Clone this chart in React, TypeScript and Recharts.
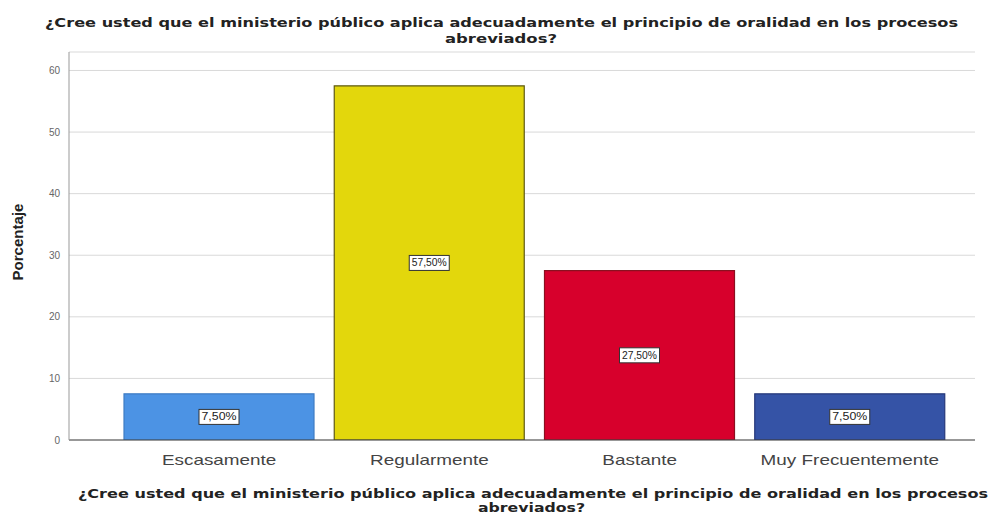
import React from 'react';
import { BarChart, Bar, Cell, XAxis, YAxis, CartesianGrid, LabelList } from 'recharts';

const categories = ['Escasamente', 'Regularmente', 'Bastante', 'Muy Frecuentemente'];
const percentages = [7.5, 57.5, 27.5, 7.5];
const yTicks = [0, 10, 20, 30, 40, 50, 60];
const barColors = ['#4C93E4', '#E3D70C', '#D7002C', '#3553A6'];
const barStrokes = ['#3F7CC4', '#5E5A14', '#8A1020', '#26387A'];

const titleLine1 = '¿Cree usted que el ministerio público aplica adecuadamente el principio de oralidad en los procesos';
const titleLine2 = 'abreviados?';

const data = categories.map((name, i) => ({ name, value: percentages[i] }));

const fmt = (v: number) => v.toFixed(2).replace('.', ',') + '%';

const ValueBox = (props: any) => {
  const { x, y, width, height, value } = props;
  const cx = x + width / 2;
  const cy = y + height / 2;
  const w = 40;
  const h = 15;
  return (
    <g>
      <rect x={cx - w / 2} y={cy - h / 2} width={w} height={h} fill="#fff" stroke="#333" strokeWidth={1} />
      <text
        x={cx}
        y={cy + 3.5}
        textAnchor="middle"
        fontSize={10}
        fontFamily="Liberation Sans, Arial, sans-serif"
        fill="#222"
        textLength={35}
        lengthAdjust="spacingAndGlyphs"
      >
        {fmt(value)}
      </text>
    </g>
  );
};

const XTick = (props: any) => {
  const { x, payload } = props;
  return (
    <g transform={`translate(${x},465) scale(1.35,1)`}>
      <text x={0} y={0} textAnchor="middle" fontSize={14} fontFamily="Liberation Sans, Arial, sans-serif" fill="#444">
        {payload.value}
      </text>
    </g>
  );
};

export default function App() {
  return (
    <div style={{ position: 'absolute', left: 0, top: 0, width: 991, height: 515, background: '#fff' }}>
      <BarChart
        width={991}
        height={515}
        data={data}
        margin={{ top: 52, right: 16, bottom: 45, left: 29 }}
        barSize={190}
      >
        <CartesianGrid vertical={false} stroke="#d9d9d9" />
        <XAxis
          dataKey="name"
          height={30}
          padding={{ left: 45, right: 20 }}
          tickLine={false}
          axisLine={{ stroke: '#444' }}
          tick={<XTick />}
          interval={0}
        />
        <YAxis
          width={40}
          domain={[0, 63]}
          ticks={yTicks}
          allowDataOverflow
          tickLine={false}
          tickSize={6}
          tickMargin={3}
          axisLine={{ stroke: '#999' }}
          tick={{ fontSize: 10, fill: '#666', fontFamily: 'Liberation Sans, Arial, sans-serif' }}
        />
        <Bar dataKey="value" isAnimationActive={false} strokeWidth={1.2}>
          {data.map((d, i) => (
            <Cell key={d.name} fill={barColors[i]} stroke={barStrokes[i]} />
          ))}
          <LabelList dataKey="value" content={<ValueBox />} />
        </Bar>
      </BarChart>
      <svg
        width={991}
        height={515}
        style={{ position: 'absolute', left: 0, top: 0, pointerEvents: 'none' }}
      >
        <g fontFamily="DejaVu Sans, sans-serif" fontWeight="bold" fontSize={13} fill="#222">
          <text x={45} y={27} textLength={913} lengthAdjust="spacingAndGlyphs">{titleLine1}</text>
          <text x={445} y={43} textLength={112} lengthAdjust="spacingAndGlyphs">{titleLine2}</text>
          <text x={78} y={498} textLength={910} lengthAdjust="spacingAndGlyphs">{titleLine1}</text>
          <text x={478} y={512} textLength={107} lengthAdjust="spacingAndGlyphs">{titleLine2}</text>
        </g>
        <text
          transform="translate(23,242) rotate(-90)"
          textAnchor="middle"
          fontFamily="Liberation Sans, Arial, sans-serif"
          fontWeight="bold"
          fontSize={14}
          fill="#222"
          textLength={77}
          lengthAdjust="spacingAndGlyphs"
        >
          Porcentaje
        </text>
      </svg>
    </div>
  );
}
